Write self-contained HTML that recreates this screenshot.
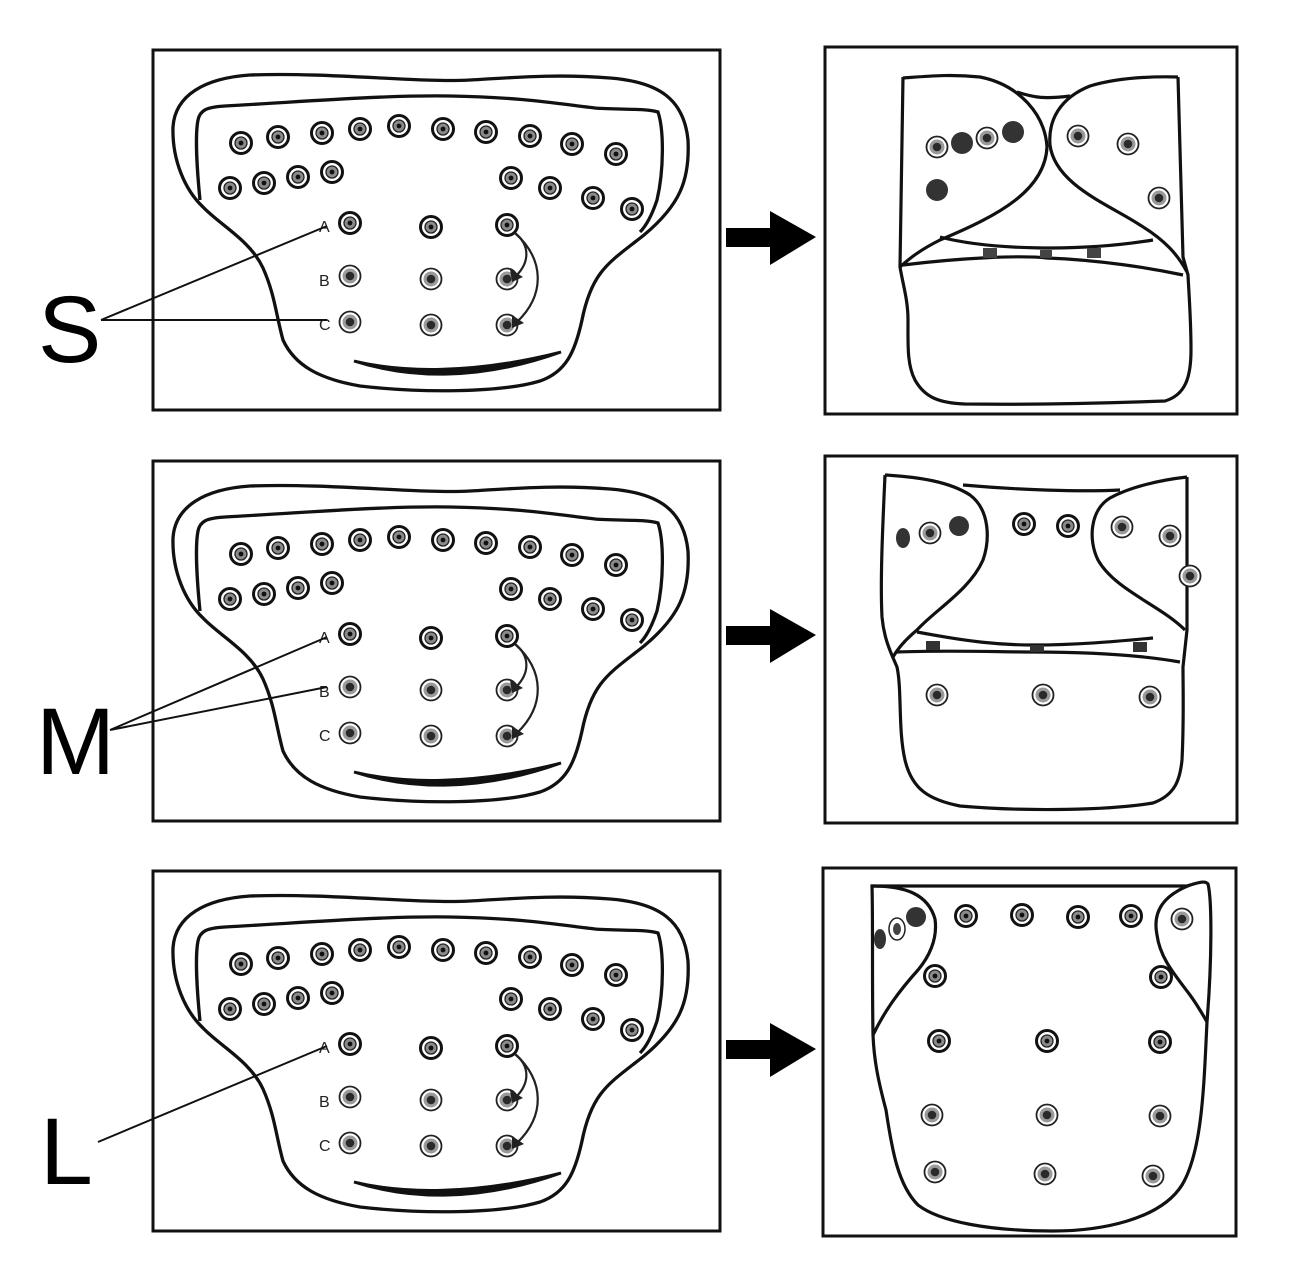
<!DOCTYPE html>
<html><head><meta charset="utf-8"><style>
html,body{margin:0;padding:0;background:#fff;}
svg{display:block;}
text{font-family:"Liberation Sans",sans-serif;}
</style></head><body>
<svg width="1296" height="1275" viewBox="0 0 1296 1275" xmlns="http://www.w3.org/2000/svg">
<defs>
<g id="sb">
<circle r="10.5" fill="#fff" stroke="#111" stroke-width="3"/>
<circle r="6" fill="#8a8a8a" stroke="#222" stroke-width="1.3"/>
<circle r="2.4" fill="#111"/>
</g>
<g id="sg">
<circle r="10.5" fill="#fff" stroke="#222" stroke-width="1.8"/>
<circle r="7.5" fill="#9a9a9a"/>
<circle r="4.3" fill="#2a2a2a"/>
</g>
<g id="left">
<rect x="153" y="50" width="567" height="360" fill="none" stroke="#111" stroke-width="3"/>
<path d="M203,207 C185,190 172,160 173,127 C175,95 205,78 250,75 C330,72 420,83 470,80 C520,77 560,74 610,78 C660,82 684,100 688,140 C690,180 680,205 644,235 C610,262 592,270 582,320 C575,352 566,372 540,381 C500,393 420,393 360,386 C320,379 295,366 283,340 C276,315 275,295 263,268 C250,240 220,225 203,207 Z" fill="none" stroke="#111" stroke-width="3.3"/>
<path d="M200,200 C197,170 195,135 198,120 C200,110 207,107 225,106 C300,102 380,95 450,96 C520,97 560,104 595,108 C620,110 645,108 658,112 C664,130 664,170 657,200 C652,215 647,225 640,232" fill="none" stroke="#111" stroke-width="3.3"/>
<path d="M354,361 C400,372 470,375 561,352 C480,381 410,379 354,361 Z" fill="#111" stroke="#111" stroke-width="2.8"/>
<use href="#sb" x="241" y="143"/><use href="#sb" x="278" y="137"/><use href="#sb" x="322" y="133"/><use href="#sb" x="360" y="129"/><use href="#sb" x="399" y="126"/><use href="#sb" x="443" y="129"/><use href="#sb" x="486" y="132"/><use href="#sb" x="530" y="136"/><use href="#sb" x="572" y="144"/><use href="#sb" x="616" y="154"/>
<use href="#sb" x="230" y="188"/><use href="#sb" x="264" y="183"/><use href="#sb" x="298" y="177"/><use href="#sb" x="332" y="172"/>
<use href="#sb" x="511" y="178"/><use href="#sb" x="550" y="188"/><use href="#sb" x="593" y="198"/><use href="#sb" x="632" y="209"/>
<use href="#sb" x="350" y="223"/><use href="#sb" x="431" y="227"/><use href="#sb" x="507" y="225"/>
<use href="#sg" x="350" y="276"/><use href="#sg" x="431" y="279"/><use href="#sg" x="507" y="279"/>
<use href="#sg" x="350" y="322"/><use href="#sg" x="431" y="325"/><use href="#sg" x="507" y="325"/>
<text x="319" y="232" font-size="16" fill="#222">A</text>
<text x="319" y="286" font-size="16" fill="#222">B</text>
<text x="319" y="330" font-size="16" fill="#222">C</text>
<path d="M515,233 C530,245 530,262 516,276" fill="none" stroke="#222" stroke-width="2.2"/>
<path d="M510,269 L523,277 L512,282 Z" fill="#222"/>
<path d="M515,233 C545,260 545,295 517,322" fill="none" stroke="#222" stroke-width="2.2"/>
<path d="M512,315 L524,323 L512,328 Z" fill="#222"/>
</g>
<g id="arr"><rect x="726" y="228" width="46" height="19" fill="#000"/><path d="M770,211 L816,237 L770,265 Z" fill="#000"/></g>
</defs>

<use href="#left"/>
<use href="#left" y="411"/>
<use href="#left" y="821"/>
<use href="#arr"/>
<use href="#arr" y="398"/>
<use href="#arr" y="812"/>

<text x="38" y="362" font-size="95" fill="#000">S</text>
<path d="M101,320 L327,226 M101,320 L327,320" stroke="#111" stroke-width="2" fill="none"/>
<text x="36" y="774" font-size="95" fill="#000">M</text>
<path d="M110,730 L327,637 M110,730 L327,687" stroke="#111" stroke-width="2" fill="none"/>
<text x="40" y="1184" font-size="95" fill="#000">L</text>
<path d="M98,1142 L327,1046" stroke="#111" stroke-width="2" fill="none"/>

<!-- right panel 1 -->
<rect x="825" y="47" width="412" height="367" fill="none" stroke="#111" stroke-width="3"/>
<g fill="none" stroke="#111" stroke-width="3.2">
<path d="M903,77 L900,267 C903,285 908,300 908,320 C908,345 907,365 915,380 C925,398 940,403 965,404 C1040,405 1110,403 1165,401 C1185,395 1191,378 1191,350 C1191,320 1189,295 1188,275 L1183,257 L1178,77"/>
<path d="M903,78 C930,76 950,74 980,77 C1020,85 1045,115 1047,147 C1045,190 1000,215 940,240 C920,250 910,258 900,267"/>
<path d="M1178,77 C1140,76 1110,80 1090,86 C1060,98 1048,120 1050,145 C1055,185 1110,205 1140,225 C1165,240 1178,255 1187,272"/>
<path d="M1017,92 C1035,98 1045,99 1070,96"/>
<path d="M940,237 C990,250 1080,252 1153,240"/>
<path d="M903,265 C960,258 1020,255 1047,258 C1100,260 1150,268 1183,275"/>
</g>
<g fill="#444"><rect x="983" y="248" width="14" height="10"/><rect x="1040" y="250" width="12" height="8"/><rect x="1087" y="248" width="14" height="10"/></g>
<use href="#sg" x="937" y="147"/><circle cx="962" cy="143" r="11" fill="#333"/><use href="#sg" x="987" y="138"/><circle cx="1013" cy="132" r="11" fill="#333"/><circle cx="937" cy="190" r="11" fill="#333"/>
<use href="#sg" x="1078" y="136"/><use href="#sg" x="1128" y="144"/><use href="#sg" x="1159" y="198"/>

<!-- right panel 2 -->
<rect x="825" y="456" width="412" height="367" fill="none" stroke="#111" stroke-width="3"/>
<g fill="none" stroke="#111" stroke-width="3.2">
<path d="M885,475 C883,520 880,580 882,617 C884,640 892,655 897,667 C902,690 898,730 905,760 C912,790 930,800 960,806 C1030,812 1110,810 1153,803 C1175,795 1180,780 1182,760 C1184,720 1183,690 1183,667 L1187,630 L1187,477"/>
<path d="M885,475 C920,477 950,482 970,495 C990,510 990,540 983,560 C970,590 935,610 917,630 C905,640 898,648 893,657"/>
<path d="M963,485 C1020,490 1080,492 1120,490"/>
<path d="M1187,477 C1160,480 1130,487 1110,498 C1090,510 1088,540 1098,560 C1115,590 1160,605 1185,630"/>
<path d="M917,632 C970,642 1000,645 1033,645 C1080,645 1120,641 1153,638"/>
<path d="M897,652 C950,650 1000,652 1033,652 C1090,652 1140,655 1180,662"/>
</g>
<g fill="#333"><rect x="926" y="641" width="14" height="9"/><rect x="1030" y="645" width="14" height="7"/><rect x="1133" y="642" width="14" height="10"/></g>
<ellipse cx="903" cy="538" rx="7" ry="10" fill="#333"/><use href="#sg" x="930" y="533"/><circle cx="959" cy="526" r="10" fill="#333"/>
<use href="#sb" x="1024" y="524"/><use href="#sb" x="1068" y="526"/><use href="#sg" x="1122" y="527"/><use href="#sg" x="1170" y="536"/><use href="#sg" x="1190" y="576"/>
<use href="#sg" x="937" y="695"/><use href="#sg" x="1043" y="695"/><use href="#sg" x="1150" y="697"/>

<!-- right panel 3 -->
<rect x="823" y="868" width="413" height="368" fill="none" stroke="#111" stroke-width="3"/>
<g fill="none" stroke="#111" stroke-width="3.2">
<path d="M872,886 L1187,886 C1197,883 1205,880 1208,884 C1212,900 1212,960 1207,1022 C1204,1080 1203,1150 1182,1185 C1160,1220 1100,1231 1053,1231 C990,1231 940,1222 918,1205 C898,1185 892,1150 886,1110 C878,1080 874,1060 873,1035 C872,980 873,920 872,886 Z"/>
<path d="M872,886 C905,886 928,894 935,919 C938,940 928,958 918,970 C900,990 885,1010 873,1035"/>
<path d="M1190,885 C1165,895 1152,910 1157,935 C1160,958 1175,975 1190,995 C1198,1006 1203,1015 1207,1022"/>
</g>
<ellipse cx="880" cy="939" rx="6" ry="10" fill="#333"/><ellipse cx="897" cy="929" rx="8" ry="11" fill="#fff" stroke="#222" stroke-width="1.5"/><ellipse cx="897" cy="929" rx="4" ry="6" fill="#444"/><circle cx="916" cy="917" r="10" fill="#333"/>
<use href="#sb" x="966" y="916"/><use href="#sb" x="1022" y="915"/><use href="#sb" x="1078" y="917"/><use href="#sb" x="1131" y="916"/><use href="#sg" x="1182" y="919"/>
<use href="#sb" x="935" y="976"/><use href="#sb" x="1161" y="977"/>
<use href="#sb" x="939" y="1041"/><use href="#sb" x="1047" y="1041"/><use href="#sb" x="1160" y="1042"/>
<use href="#sg" x="932" y="1115"/><use href="#sg" x="1047" y="1115"/><use href="#sg" x="1160" y="1116"/>
<use href="#sg" x="935" y="1172"/><use href="#sg" x="1045" y="1174"/><use href="#sg" x="1153" y="1176"/>
</svg>
</body></html>
